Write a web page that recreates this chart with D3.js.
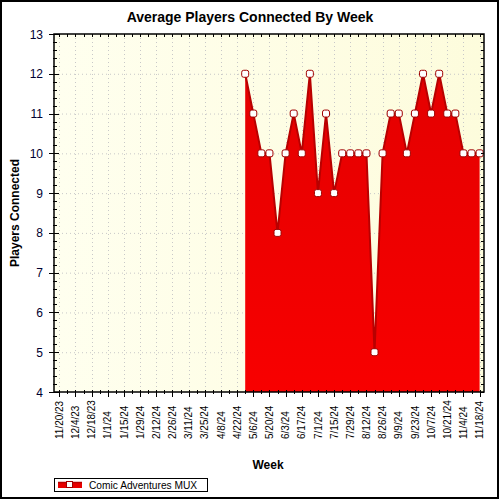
<!DOCTYPE html>
<html><head><meta charset="utf-8">
<script src="https://cdn.jsdelivr.net/npm/d3@7"></script>
<style>html,body{margin:0;padding:0;background:#fff}svg{display:block}</style>
</head><body>
<script>
const weeks = ["11/20/23","11/27/23","12/4/23","12/11/23","12/18/23","12/25/23","1/1/24","1/8/24","1/15/24","1/22/24","1/29/24","2/5/24","2/12/24","2/19/24","2/26/24","3/4/24","3/11/24","3/18/24","3/25/24","4/1/24","4/8/24","4/15/24","4/22/24","4/29/24","5/6/24","5/13/24","5/20/24","5/27/24","6/3/24","6/10/24","6/17/24","6/24/24","7/1/24","7/8/24","7/15/24","7/22/24","7/29/24","8/5/24","8/12/24","8/19/24","8/26/24","9/2/24","9/9/24","9/16/24","9/23/24","9/30/24","10/7/24","10/14/24","10/21/24","10/28/24","11/4/24","11/11/24","11/18/24"];
const tickLabels = ["11/20/23","12/4/23","12/18/23","1/1/24","1/15/24","1/29/24","2/12/24","2/26/24","3/11/24","3/25/24","4/8/24","4/22/24","5/6/24","5/20/24","6/3/24","6/17/24","7/1/24","7/15/24","7/29/24","8/12/24","8/26/24","9/9/24","9/23/24","10/7/24","10/21/24","11/4/24","11/18/24"];
const dataWeeks = ["4/29/24","5/6/24","5/13/24","5/20/24","5/27/24","6/3/24","6/10/24","6/17/24","6/24/24","7/1/24","7/8/24","7/15/24","7/22/24","7/29/24","8/5/24","8/12/24","8/19/24","8/26/24","9/2/24","9/9/24","9/16/24","9/23/24","9/30/24","10/7/24","10/14/24","10/21/24","10/28/24","11/4/24","11/11/24","11/18/24"];
const players = [12,11,10,10,8,10,11,10,12,9,11,9,10,10,10,10,5,10,11,11,10,11,12,11,12,11,11,10,10,10];
const yTicks = [4,5,6,7,8,9,10,11,12,13];
const seriesName = "Comic Adventures MUX";

const W = 500, H = 500;
const L = 54, R = 484, T = 34, B = 392;
const svg = d3.select("body").append("svg").attr("width", W).attr("height", H);
const defs = svg.append("defs");
const bg = defs.append("linearGradient").attr("id","bg").attr("x1","0").attr("x2","1").attr("y1","0").attr("y2","0");
bg.append("stop").attr("offset","0").attr("stop-color","#ffffef");
bg.append("stop").attr("offset","1").attr("stop-color","#fdfcdc");
const fg = defs.append("linearGradient").attr("id","fg").attr("x1","0").attr("x2","0").attr("y1","0").attr("y2","1");
fg.append("stop").attr("offset","0").attr("stop-color","#e40000");
fg.append("stop").attr("offset","1").attr("stop-color","#f80000");

svg.append("rect").attr("x",1).attr("y",1).attr("width",497).attr("height",497)
  .attr("fill","#fff").attr("stroke","#000").attr("stroke-width",2);

const x = d3.scalePoint().domain(weeks).range([59.3, 479.6]);
const y = d3.scaleLinear().domain([4,13]).range([B, T]);

svg.append("rect").attr("x",L).attr("y",T).attr("width",R-L).attr("height",B-T).attr("fill","url(#bg)");

// grid
const grid = svg.append("g").attr("stroke","#c8c8c8").attr("stroke-dasharray","1,3");
grid.selectAll("line.h").data(yTicks.slice(1,-1)).join("line")
  .attr("x1",L).attr("x2",R).attr("y1",d=>y(d)+0.5).attr("y2",d=>y(d)+0.5);
grid.selectAll("line.v").data(tickLabels).join("line")
  .attr("y1",T).attr("y2",B).attr("x1",d=>Math.round(x(d))+0.5).attr("x2",d=>Math.round(x(d))+0.5);

// area
const pts = dataWeeks.map((w,i)=>({w, v: players[i]}));
const area = d3.area().x(d=>x(d.w)).y0(y(4)).y1(d=>y(d.v));
svg.append("path").datum(pts).attr("d",area).attr("fill","url(#fg)");
const line = d3.line().x(d=>x(d.w)).y(d=>y(d.v));
svg.append("path").datum(pts).attr("d",line).attr("fill","none").attr("stroke","#b80000").attr("stroke-width",2);

// markers
svg.selectAll("rect.m").data(pts).join("rect").attr("class","m")
  .attr("x",d=>x(d.w)-3.5).attr("y",d=>y(d.v)-3.5).attr("width",7).attr("height",7).attr("rx",2)
  .attr("fill","#fff").attr("stroke","#a00000").attr("stroke-width",1);

// axes frame
svg.append("rect").attr("x",L).attr("y",T).attr("width",R-L).attr("height",B-T)
  .attr("fill","none").attr("stroke","#000").attr("stroke-width",1.5);

// left axis
const yMinor = d3.range(4,13.001,0.2);
const ax = svg.append("g").attr("stroke","#000").attr("stroke-width",1);
ax.selectAll("line.ymin").data(yMinor).join("line")
  .attr("x1",L-1).attr("x2",L+3).attr("y1",d=>Math.round(y(d))+0.5).attr("y2",d=>Math.round(y(d))+0.5);
ax.selectAll("line.ymaj").data(yTicks).join("line")
  .attr("x1",L-5).attr("x2",L+5).attr("y1",d=>Math.round(y(d))+0.5).attr("y2",d=>Math.round(y(d))+0.5);
// right axis inside ticks
ax.selectAll("line.yr").data(yMinor).join("line")
  .attr("x1",R-3).attr("x2",R).attr("y1",d=>Math.round(y(d))+0.5).attr("y2",d=>Math.round(y(d))+0.5);
// top ticks
ax.selectAll("line.xt").data(weeks).join("line")
  .attr("x1",d=>Math.round(x(d))+0.5).attr("x2",d=>Math.round(x(d))+0.5).attr("y1",T).attr("y2",T+3);
// bottom ticks
ax.selectAll("line.xb").data(weeks).join("line")
  .attr("x1",d=>Math.round(x(d))+0.5).attr("x2",d=>Math.round(x(d))+0.5)
  .attr("y1",B-2).attr("y2",(d,i)=>i%2===0?B+5:B+2);

svg.append("g").selectAll("text").data(yTicks).join("text")
  .attr("x",43).attr("y",d=>y(d)+4.5).attr("text-anchor","end")
  .attr("font-family","Arial, 'Liberation Sans', sans-serif").attr("font-size",12).attr("fill","#000030")
  .text(d=>d);

svg.append("g").selectAll("text").data(tickLabels).join("text")
  .attr("transform",d=>`translate(${x(d)+3.6},439) rotate(-90)`)
  .attr("text-anchor","start")
  .attr("font-family","Arial, 'Liberation Sans', sans-serif").attr("font-size",10).attr("fill","#000")
  .text(d=>d);

svg.append("text").attr("x",250).attr("y",22).attr("text-anchor","middle")
  .attr("font-family","Arial, 'Liberation Sans', sans-serif").attr("font-size",14).attr("font-weight","bold")
  .text("Average Players Connected By Week");
svg.append("text").attr("x",268).attr("y",469).attr("text-anchor","middle")
  .attr("font-family","Arial, 'Liberation Sans', sans-serif").attr("font-size",12).attr("font-weight","bold")
  .text("Week");
svg.append("text").attr("transform",`translate(18.5,${(T+B)/2}) rotate(-90)`).attr("text-anchor","middle")
  .attr("font-family","Arial, 'Liberation Sans', sans-serif").attr("font-size",12).attr("font-weight","bold")
  .text("Players Connected");

// legend
const lg = svg.append("g");
lg.append("rect").attr("x",54.5).attr("y",478.5).attr("width",153).attr("height",13).attr("fill","#fff").attr("stroke","#000");
lg.append("rect").attr("x",58).attr("y",482).attr("width",24).attr("height",6).attr("fill","#e80000");
lg.append("line").attr("x1",58).attr("x2",82).attr("y1",482.5).attr("y2",482.5).attr("stroke","#b80000").attr("stroke-width",1.5);
lg.append("rect").attr("x",66.5).attr("y",481.5).attr("width",6).attr("height",6).attr("fill","#fff").attr("stroke","#a00000");
lg.append("text").attr("x",89).attr("y",488.5)
  .attr("font-family","Arial, 'Liberation Sans', sans-serif").attr("font-size",10.2).attr("fill","#000")
  .text(seriesName);
</script>
</body></html>
